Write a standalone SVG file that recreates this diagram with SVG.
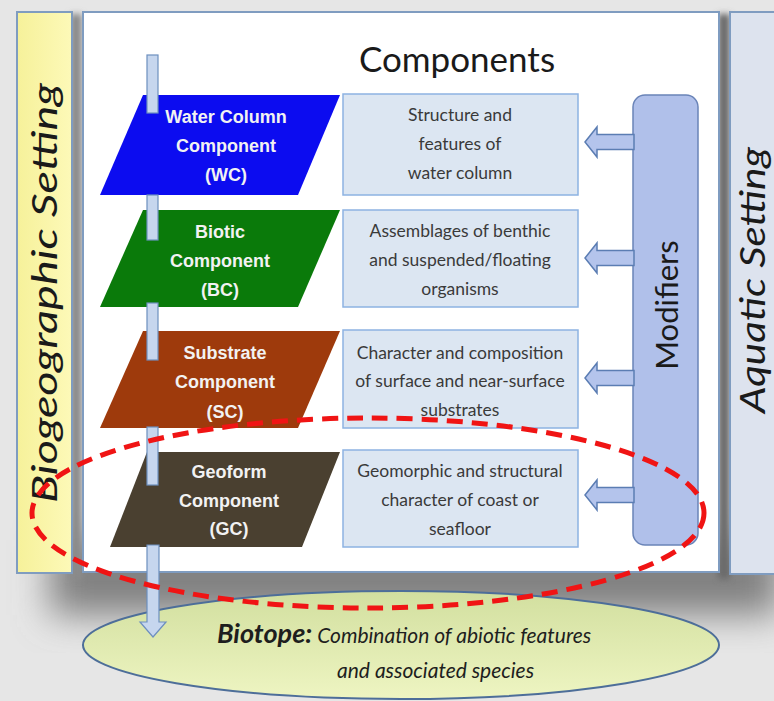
<svg xmlns="http://www.w3.org/2000/svg" width="774" height="701" viewBox="0 0 774 701">
<defs>
<style>
.comp{font-family:"Liberation Sans",Arial,sans-serif;font-weight:bold;font-size:18px;fill:#f2f2f2;text-anchor:middle}
.desc{font-family:Lato,"Liberation Sans",sans-serif;font-size:17.5px;fill:#3a3a3a;text-anchor:middle}
.box{fill:#dce6f2;stroke:#8db3e2;stroke-width:1.5}
.bar{fill:#c6d6ee;stroke:#6d8fbf;stroke-width:1.2}
.marr{fill:#b4c4ec;stroke:#5b7db3;stroke-width:1.5}
.side{font-family:Lato,"Liberation Sans",sans-serif;font-style:italic;font-size:35px;fill:#1a1a1a;text-anchor:middle}
</style>
<linearGradient id="yel" x1="0" y1="0" x2="1" y2="0">
<stop offset="0" stop-color="#f6f19a"/><stop offset="1" stop-color="#fdf9b8"/>
</linearGradient>
<linearGradient id="bio" x1="0" y1="0" x2="0" y2="1">
<stop offset="0" stop-color="#d2df9f"/><stop offset="1" stop-color="#eef5c2"/>
</linearGradient>
<filter id="blur" x="-20%" y="-50%" width="140%" height="200%"><feGaussianBlur stdDeviation="18"/></filter>
<filter id="sblur" x="-50%" y="-10%" width="200%" height="120%"><feGaussianBlur stdDeviation="3"/></filter>
</defs>
<rect width="774" height="701" fill="#e6e6e6"/>
<!-- shadows -->
<rect x="50" y="540" width="730" height="75" fill="#808080" filter="url(#blur)"/>
<rect x="70" y="14" width="12" height="565" fill="#8a8a8a" filter="url(#sblur)"/>
<rect x="718" y="14" width="12" height="565" fill="#6a6a6a" filter="url(#sblur)"/>

<g id="biogeographic-setting">
<rect x="17" y="12" width="55" height="561" fill="url(#yel)" stroke="#7f9cc0" stroke-width="2"/>
<text class="side" transform="translate(57,293) rotate(-90)" textLength="420" lengthAdjust="spacingAndGlyphs">Biogeographic Setting</text>
</g>
<g id="components-panel">
<rect x="83" y="12" width="636" height="560" fill="#ffffff" stroke="#7f9cc0" stroke-width="2"/>
<text x="457" y="72" font-family="Lato,'Liberation Sans',sans-serif" font-size="35" fill="#1a1a1a" text-anchor="middle">Components</text>
</g>
<g id="aquatic-setting">
<rect x="730" y="12" width="50" height="562" fill="#dde3ee" stroke="#7f9cc0" stroke-width="2"/>
<text class="side" transform="translate(765,280) rotate(-90)" font-size="34" textLength="266" lengthAdjust="spacingAndGlyphs">Aquatic Setting</text>
</g>

<g id="biotope">
<ellipse cx="401" cy="645" rx="318" ry="54" fill="url(#bio)" stroke="#4d6e99" stroke-width="2"/>
<text font-family="Lato,'Liberation Sans',sans-serif" font-style="italic" fill="#1e1e1e"><tspan x="217" y="643" font-weight="bold" font-size="27">Biotope:</tspan><tspan font-size="21"> Combination of abiotic features</tspan><tspan x="337" y="678" font-size="21">and associated species</tspan></text>
</g>

<g id="wc">
<path d="M143,95 L340,95 L298,195 L100,195 Z" fill="#0c0cf0"/>
<text class="comp"><tspan x="226" y="123">Water Column</tspan><tspan x="226" y="152">Component</tspan><tspan x="226" y="181">(WC)</tspan></text>
</g>
<g id="bc">
<path d="M143,210 L340,210 L298,307 L100,307 Z" fill="#0a7a0a"/>
<text class="comp"><tspan x="220" y="238">Biotic</tspan><tspan x="220" y="267">Component</tspan><tspan x="220" y="296">(BC)</tspan></text>
</g>
<g id="sc">
<path d="M143,331 L340,331 L298,428 L100,428 Z" fill="#9e3a0c"/>
<text class="comp"><tspan x="225" y="359">Substrate</tspan><tspan x="225" y="388">Component</tspan><tspan x="225" y="418">(SC)</tspan></text>
</g>
<g id="gc">
<path d="M147,452 L340,452 L302,547 L110,547 Z" fill="#4a4030"/>
<text class="comp"><tspan x="229" y="478">Geoform</tspan><tspan x="229" y="507">Component</tspan><tspan x="229" y="535">(GC)</tspan></text>
</g>

<g id="desc-wc">
<rect class="box" x="343" y="94" width="235" height="101"/>
<text class="desc"><tspan x="460" y="121">Structure and</tspan><tspan x="460" y="150">features of</tspan><tspan x="460" y="179">water column</tspan></text>
</g>
<g id="desc-bc">
<rect class="box" x="343" y="210" width="235" height="97"/>
<text class="desc"><tspan x="460" y="237">Assemblages of benthic</tspan><tspan x="460" y="266">and suspended/floating</tspan><tspan x="460" y="295">organisms</tspan></text>
</g>
<g id="desc-sc">
<rect class="box" x="343" y="330" width="235" height="98"/>
<text class="desc"><tspan x="460" y="359">Character and composition</tspan><tspan x="460" y="387">of surface and near-surface</tspan><tspan x="460" y="416">substrates</tspan></text>
</g>
<g id="desc-gc">
<rect class="box" x="343" y="450" width="235" height="97"/>
<text class="desc"><tspan x="460" y="477">Geomorphic and structural</tspan><tspan x="460" y="506">character of coast or</tspan><tspan x="460" y="535">seafloor</tspan></text>
</g>

<g id="modifiers">
<rect x="633" y="95" width="65" height="450" rx="12" fill="#b0c0ea" stroke="#6a84b8" stroke-width="1.5"/>
<text transform="translate(678,305) rotate(-90)" font-family="Lato,'Liberation Sans',sans-serif" font-size="31" fill="#1a1a1a" text-anchor="middle">Modifiers</text>
</g>

<g id="connectors">
<rect class="bar" x="147" y="55" width="11" height="58"/>
<rect class="bar" x="147" y="195" width="11" height="45"/>
<rect class="bar" x="147" y="303" width="11" height="57"/>
<rect class="bar" x="147" y="427" width="11" height="58"/>
<path class="bar" d="M147,545 L159,545 L159,622 L166,622 L153,637 L140,622 L147,622 Z"/>
<path class="marr" d="M585,142 L597,127 L597,134.5 L634,134.5 L634,149.5 L597,149.5 L597,157 Z"/>
<path class="marr" d="M585,258 L597,243 L597,250.5 L634,250.5 L634,265.5 L597,265.5 L597,273 Z"/>
<path class="marr" d="M585,378 L597,363 L597,370.5 L634,370.5 L634,385.5 L597,385.5 L597,393 Z"/>
<path class="marr" d="M585,495 L597,480 L597,487.5 L634,487.5 L634,502.5 L597,502.5 L597,510 Z"/>
</g>

<g id="highlight">
<ellipse cx="368" cy="513" rx="336" ry="95" fill="none" stroke="#f01414" stroke-width="5" stroke-dasharray="16 9"/>
</g>
</svg>
